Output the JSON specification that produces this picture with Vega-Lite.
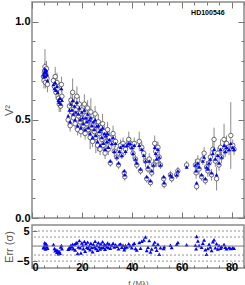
{
"$schema": "https://vega.github.io/schema/vega-lite/v6.json",
"padding": {"left": 2, "top": 0, "right": 1, "bottom": 0},
"spacing": 0,
"config": {
  "view": {"stroke": "#8a8a8a", "strokeWidth": 1.5},
  "axis": {"domain": false, "grid": false, "labelFont": "Liberation Sans", "labelColor": "black", "labelFontSize": 11, "labelFontWeight": "bold", "titleFont": "Liberation Sans", "titleFontWeight": "normal", "titleColor": "#555", "titleFontSize": 11, "tickColor": "#777", "tickWidth": 1}
},
"data": {"values": [
{"f":4.6,"v":0.72,"e":0.03,"m":0.73,"r":-0.5},{"f":4.8,"v":0.70,"e":0.04,"m":0.72,"r":-0.6},{"f":5.0,"v":0.74,"e":0.04,"m":0.74,"r":0.1},{"f":5.2,"v":0.77,"e":0.09,"m":0.75,"r":0.3},{"f":5.4,"v":0.69,"e":0.03,"m":0.72,"r":-1.0},{"f":5.6,"v":0.73,"e":0.05,"m":0.74,"r":0.8},{"f":5.8,"v":0.76,"e":0.04,"m":0.75,"r":0.4},{"f":6.0,"v":0.71,"e":0.03,"m":0.73,"r":-0.2},{"f":6.2,"v":0.68,"e":0.04,"m":0.70,"r":-0.7},{"f":5.1,"v":0.75,"e":0.04,"m":0.76,"r":1.1},
{"f":8.6,"v":0.70,"e":0.03,"m":0.68,"r":0.5},{"f":9.0,"v":0.67,"e":0.04,"m":0.66,"r":-0.8},{"f":9.3,"v":0.72,"e":0.05,"m":0.69,"r":-1.6},{"f":9.6,"v":0.64,"e":0.03,"m":0.65,"r":-1.2},{"f":10.0,"v":0.69,"e":0.05,"m":0.67,"r":-2.1},{"f":10.3,"v":0.66,"e":0.03,"m":0.64,"r":-1.5},{"f":10.6,"v":0.61,"e":0.04,"m":0.60,"r":-2.6},{"f":10.9,"v":0.58,"e":0.04,"m":0.59,"r":-1.8},{"f":11.2,"v":0.60,"e":0.03,"m":0.61,"r":-2.4},{"f":11.5,"v":0.57,"e":0.03,"m":0.58,"r":-0.3},{"f":11.8,"v":0.68,"e":0.04,"m":0.66,"r":0.2},{"f":12.0,"v":0.62,"e":0.03,"m":0.60,"r":-0.9},
{"f":14.5,"v":0.50,"e":0.03,"m":0.52,"r":-1.1},{"f":15.0,"v":0.57,"e":0.04,"m":0.55,"r":-0.4},{"f":15.3,"v":0.47,"e":0.03,"m":0.49,"r":-0.8},{"f":15.6,"v":0.60,"e":0.04,"m":0.58,"r":0.3},{"f":16.0,"v":0.54,"e":0.03,"m":0.55,"r":-0.2},{"f":16.3,"v":0.64,"e":0.07,"m":0.60,"r":0.6},{"f":16.6,"v":0.51,"e":0.03,"m":0.53,"r":-0.9},{"f":17.0,"v":0.58,"e":0.04,"m":0.57,"r":0.5},{"f":17.3,"v":0.48,"e":0.03,"m":0.50,"r":-1.3},{"f":17.6,"v":0.55,"e":0.03,"m":0.54,"r":0.9},{"f":18.0,"v":0.62,"e":0.05,"m":0.59,"r":1.2},{"f":18.3,"v":0.45,"e":0.03,"m":0.47,"r":-2.5},{"f":18.6,"v":0.52,"e":0.03,"m":0.53,"r":-0.3},{"f":19.0,"v":0.58,"e":0.04,"m":0.56,"r":1.8},{"f":19.3,"v":0.49,"e":0.03,"m":0.50,"r":-0.6},{"f":19.6,"v":0.44,"e":0.03,"m":0.46,"r":-2.3},{"f":20.0,"v":0.55,"e":0.03,"m":0.54,"r":1.0},{"f":20.3,"v":0.51,"e":0.03,"m":0.51,"r":0.2},{"f":20.6,"v":0.47,"e":0.04,"m":0.48,"r":-0.9},{"f":21.0,"v":0.58,"e":0.05,"m":0.55,"r":1.5},{"f":21.3,"v":0.43,"e":0.03,"m":0.45,"r":-1.7},{"f":21.6,"v":0.52,"e":0.03,"m":0.51,"r":0.8},{"f":22.0,"v":0.48,"e":0.03,"m":0.49,"r":-0.4},{"f":22.3,"v":0.56,"e":0.04,"m":0.53,"r":1.3},{"f":22.6,"v":0.45,"e":0.03,"m":0.46,"r":-0.7},{"f":23.0,"v":0.50,"e":0.03,"m":0.50,"r":0.1},{"f":23.3,"v":0.41,"e":0.06,"m":0.43,"r":-1.2},{"f":23.6,"v":0.54,"e":0.07,"m":0.51,"r":0.9},{"f":24.0,"v":0.46,"e":0.03,"m":0.47,"r":-0.5},{"f":24.3,"v":0.39,"e":0.03,"m":0.41,"r":-1.9},{"f":24.6,"v":0.50,"e":0.03,"m":0.49,"r":0.6},{"f":25.0,"v":0.44,"e":0.03,"m":0.45,"r":-0.3},{"f":25.3,"v":0.53,"e":0.04,"m":0.50,"r":1.6},{"f":25.6,"v":0.41,"e":0.08,"m":0.42,"r":-0.8},{"f":26.0,"v":0.47,"e":0.03,"m":0.47,"r":0.2},{"f":26.3,"v":0.37,"e":0.03,"m":0.39,"r":-1.4},{"f":26.6,"v":0.49,"e":0.04,"m":0.47,"r":1.1},{"f":27.0,"v":0.43,"e":0.03,"m":0.44,"r":-0.2},{"f":27.3,"v":0.35,"e":0.03,"m":0.37,"r":-1.0},{"f":27.6,"v":0.46,"e":0.03,"m":0.45,"r":0.7},{"f":28.0,"v":0.40,"e":0.03,"m":0.41,"r":-0.6},{"f":28.3,"v":0.48,"e":0.05,"m":0.46,"r":1.4},{"f":28.6,"v":0.37,"e":0.03,"m":0.38,"r":-0.4},{"f":29.0,"v":0.44,"e":0.03,"m":0.43,"r":0.5},{"f":29.3,"v":0.33,"e":0.03,"m":0.35,"r":-1.1},{"f":29.6,"v":0.42,"e":0.03,"m":0.42,"r":0.3},{"f":30.0,"v":0.39,"e":0.03,"m":0.39,"r":-0.2},{"f":30.3,"v":0.45,"e":0.04,"m":0.43,"r":1.0},{"f":30.6,"v":0.35,"e":0.03,"m":0.36,"r":-0.5},{"f":31.0,"v":0.41,"e":0.03,"m":0.40,"r":0.6},{"f":31.4,"v":0.28,"e":0.02,"m":0.29,"r":-0.7},{"f":32.0,"v":0.38,"e":0.03,"m":0.38,"r":0.2},{"f":32.5,"v":0.43,"e":0.04,"m":0.41,"r":0.9},{"f":33.0,"v":0.34,"e":0.03,"m":0.34,"r":-0.3},{"f":33.5,"v":0.39,"e":0.03,"m":0.38,"r":0.4},{"f":34.0,"v":0.31,"e":0.02,"m":0.31,"r":-0.1},{"f":34.7,"v":0.27,"e":0.02,"m":0.28,"r":-0.9},{"f":35.0,"v":0.35,"e":0.03,"m":0.34,"r":0.5},{"f":35.5,"v":0.37,"e":0.03,"m":0.36,"r":0.7},{"f":36.0,"v":0.32,"e":0.02,"m":0.32,"r":-0.4},{"f":36.5,"v":0.38,"e":0.03,"m":0.37,"r":0.3},{"f":37.0,"v":0.23,"e":0.02,"m":0.24,"r":-1.2},{"f":37.2,"v":0.21,"e":0.02,"m":0.22,"r":-0.6},{"f":37.5,"v":0.35,"e":0.03,"m":0.34,"r":0.2},{"f":38.0,"v":0.37,"e":0.03,"m":0.37,"r":-0.3},{"f":38.8,"v":0.40,"e":0.04,"m":0.38,"r":0.8},{"f":39.3,"v":0.38,"e":0.03,"m":0.38,"r":0.1},{"f":40.0,"v":0.36,"e":0.03,"m":0.36,"r":-0.6},{"f":40.5,"v":0.33,"e":0.03,"m":0.33,"r":0.4},{"f":41.0,"v":0.38,"e":0.03,"m":0.37,"r":0.9},{"f":41.5,"v":0.30,"e":0.02,"m":0.30,"r":-0.8},{"f":42.0,"v":0.27,"e":0.02,"m":0.28,"r":-1.3},{"f":43.0,"v":0.39,"e":0.05,"m":0.37,"r":1.2},{"f":43.5,"v":0.24,"e":0.02,"m":0.25,"r":-0.7},{"f":44.0,"v":0.36,"e":0.03,"m":0.35,"r":1.6},{"f":44.8,"v":0.33,"e":0.03,"m":0.32,"r":2.0},{"f":45.5,"v":0.29,"e":0.03,"m":0.29,"r":3.0},{"f":46.0,"v":0.20,"e":0.02,"m":0.21,"r":-1.5},{"f":46.5,"v":0.25,"e":0.02,"m":0.26,"r":-0.4},{"f":47.0,"v":0.30,"e":0.03,"m":0.29,"r":1.8},{"f":47.5,"v":0.18,"e":0.02,"m":0.19,"r":-2.0},{"f":48.0,"v":0.23,"e":0.02,"m":0.24,"r":-1.0},{"f":48.7,"v":0.27,"e":0.03,"m":0.27,"r":0.5},{"f":49.2,"v":0.38,"e":0.04,"m":0.36,"r":1.3},{"f":49.6,"v":0.34,"e":0.03,"m":0.33,"r":-0.3},{"f":50.0,"v":0.29,"e":0.03,"m":0.30,"r":-1.4},{"f":50.5,"v":0.36,"e":0.03,"m":0.35,"r":0.6},{"f":51.0,"v":0.31,"e":0.03,"m":0.31,"r":-2.7},{"f":51.5,"v":0.27,"e":0.02,"m":0.27,"r":-0.6},{"f":52.8,"v":0.20,"e":0.02,"m":0.21,"r":-0.8},{"f":53.0,"v":0.17,"e":0.02,"m":0.18,"r":-0.2},{"f":55.5,"v":0.22,"e":0.02,"m":0.22,"r":0.3},{"f":56.0,"v":0.20,"e":0.02,"m":0.21,"r":-0.5},{"f":58.0,"v":0.22,"e":0.02,"m":0.22,"r":0.6},{"f":58.5,"v":0.24,"e":0.02,"m":0.24,"r":1.2},{"f":62.0,"v":0.27,"e":0.02,"m":0.26,"r":0.4},{"f":65.5,"v":0.27,"e":0.03,"m":0.27,"r":0.3},{"f":65.8,"v":0.23,"e":0.03,"m":0.24,"r":-0.9},{"f":66.0,"v":0.16,"e":0.02,"m":0.18,"r":3.2},{"f":66.5,"v":0.29,"e":0.03,"m":0.28,"r":1.7},{"f":67.0,"v":0.25,"e":0.03,"m":0.26,"r":0.2},{"f":68.0,"v":0.21,"e":0.02,"m":0.22,"r":-0.4},{"f":68.5,"v":0.30,"e":0.03,"m":0.29,"r":0.9},{"f":69.0,"v":0.33,"e":0.03,"m":0.31,"r":2.0},{"f":69.5,"v":0.19,"e":0.02,"m":0.20,"r":-1.2},{"f":70.0,"v":0.26,"e":0.03,"m":0.26,"r":-2.7},{"f":70.5,"v":0.24,"e":0.03,"m":0.25,"r":-0.8},{"f":71.0,"v":0.28,"e":0.03,"m":0.28,"r":0.6},{"f":71.5,"v":0.31,"e":0.03,"m":0.30,"r":-0.3},{"f":72.0,"v":0.22,"e":0.03,"m":0.23,"r":-1.5},{"f":72.5,"v":0.35,"e":0.04,"m":0.33,"r":1.4},{"f":73.0,"v":0.40,"e":0.06,"m":0.35,"r":2.1},{"f":73.5,"v":0.29,"e":0.03,"m":0.30,"r":-0.6},{"f":74.0,"v":0.20,"e":0.06,"m":0.22,"r":0.8},{"f":74.5,"v":0.33,"e":0.03,"m":0.32,"r":-1.0},{"f":75.0,"v":0.27,"e":0.03,"m":0.28,"r":0.2},{"f":75.6,"v":0.36,"e":0.04,"m":0.35,"r":-0.7},{"f":76.0,"v":0.31,"e":0.03,"m":0.31,"r":-0.2},{"f":77.0,"v":0.40,"e":0.08,"m":0.37,"r":0.5},{"f":77.5,"v":0.34,"e":0.03,"m":0.34,"r":-0.4},{"f":78.0,"v":0.38,"e":0.04,"m":0.36,"r":-0.9},{"f":79.0,"v":0.35,"e":0.03,"m":0.35,"r":-0.5},{"f":79.7,"v":0.42,"e":0.17,"m":0.38,"r":-0.8},{"f":80.5,"v":0.37,"e":0.03,"m":0.36,"r":-0.6},{"f":81.0,"v":0.35,"e":0.03,"m":0.35,"r":-0.7}
]},
"vconcat": [
 {
  "width": 212, "height": 216,
  "layer": [
   {"mark": {"type": "errorbar", "color": "#8a8a8a", "thickness": 1},
    "encoding": {
      "x": {"field": "f", "type": "quantitative", "scale": {"domain": [0, 85], "nice": false}, "axis": {"values": [0,5,10,15,20,25,30,35,40,45,50,55,60,65,70,75,80,85], "labels": false, "title": null, "tickSize": {"condition": {"test": "datum.value % 20 == 0", "value": -6}, "value": -3}}},
      "y": {"field": "v", "type": "quantitative", "scale": {"domain": [0, 1.1], "nice": false, "zero": false}, "title": "V²",
            "axis": {"values": [0,0.1,0.2,0.3,0.4,0.5,0.6,0.7,0.8,0.9,1.0], "labelExpr": "indexof(['0.0','0.5','1.0'], format(datum.value, '.1f')) >= 0 ? format(datum.value, '.1f') : ''", "tickSize": {"condition": {"test": "indexof([0,0.5,1], datum.value) >= 0", "value": -6}, "value": -3}, "labelPadding": 8, "minExtent": 14, "maxExtent": 14, "titlePadding": 4}},
      "yError": {"field": "e"}
    }},
   {"mark": {"type": "point", "shape": "circle", "size": 20, "fill": "white", "stroke": "#333", "strokeWidth": 0.7, "opacity": 1, "filled": false},
    "encoding": {
      "x": {"field": "f", "type": "quantitative", "axis": null},
      "y": {"field": "v", "type": "quantitative", "axis": null}
    }},
   {"mark": {"type": "point", "shape": "triangle-up", "size": 16, "filled": true, "color": "#0000ff", "opacity": 1},
    "encoding": {
      "x": {"field": "f", "type": "quantitative", "axis": {"orient": "top", "values": [0,5,10,15,20,25,30,35,40,45,50,55,60,65,70,75,80,85], "labels": false, "title": null, "tickSize": {"condition": {"test": "datum.value % 20 == 0", "value": -6}, "value": -3}}},
      "y": {"field": "m", "type": "quantitative", "axis": {"orient": "right", "values": [0,0.1,0.2,0.3,0.4,0.5,0.6,0.7,0.8,0.9,1.0], "labels": false, "title": null, "tickSize": {"condition": {"test": "indexof([0,0.5,1], datum.value) >= 0", "value": -6}, "value": -3}}}
    }},
   {"data": {"values": [{"name": "HD100546", "fx": 70.5, "vy": 1.045}]},
    "mark": {"type": "text", "font": "Liberation Sans", "fontWeight": "bold", "fontSize": 7, "color": "black"},
    "encoding": {"x": {"field": "fx", "type": "quantitative", "axis": null}, "y": {"field": "vy", "type": "quantitative", "axis": null}, "text": {"field": "name"}}}
  ],
  "resolve": {"axis": {"x": "independent", "y": "independent"}}
 },
 {
  "width": 212, "height": 43,
  "layer": [
   {"mark": {"type": "point", "shape": "triangle-up", "size": 16, "filled": true, "color": "#0000ff", "opacity": 1},
    "encoding": {
      "x": {"field": "f", "type": "quantitative", "scale": {"domain": [0, 85], "nice": false}, "title": "f (Mλ)",
            "axis": {"values": [0,5,10,15,20,25,30,35,40,45,50,55,60,65,70,75,80,85], "labelExpr": "datum.value % 20 == 0 ? datum.label : ''", "tickSize": {"condition": {"test": "datum.value % 20 == 0", "value": -6}, "value": -3}, "labelPadding": -1, "titleFontSize": 8, "titlePadding": 0, "titleY": 17, "titleBaseline": "alphabetic", "labelFontSize": 11, "minExtent": 11, "maxExtent": 11}},
      "y": {"field": "r", "type": "quantitative", "title": "Err (σ)", "scale": {"domain": [-7.3, 7], "nice": false},
            "axis": {"values": [-5, 0, 5], "tickSize": -5, "labelPadding": 8, "minExtent": 14, "maxExtent": 14, "titlePadding": 4}}
    }},
   {"data": {"values": [{"lev": -5}, {"lev": -3}, {"lev": 3}, {"lev": 5}]},
    "mark": {"type": "rule", "color": "#777", "strokeDash": [2, 2], "strokeWidth": 0.8},
    "encoding": {"y": {"field": "lev", "type": "quantitative"}}},
   {"data": {"values": [{"lev": 0}]},
    "mark": {"type": "rule", "color": "#777", "strokeWidth": 1},
    "encoding": {"y": {"field": "lev", "type": "quantitative"}}}
  ]
 }
]
}
